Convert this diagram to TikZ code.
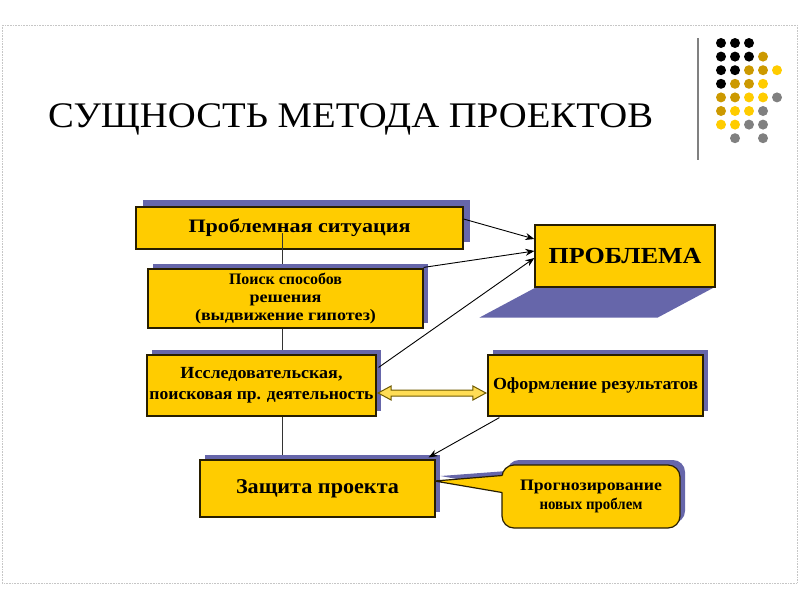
\documentclass[tikz,border=0pt]{standalone}
\usepackage{fontspec}
\setmainfont{Liberation Serif}
\usepackage{graphicx}
\usetikzlibrary{calc,arrows.meta,shadows}
\definecolor{boxy}{RGB}{255,204,0}
\definecolor{shad}{RGB}{102,102,170}
\definecolor{dgold}{RGB}{204,153,0}
\definecolor{dgray}{RGB}{128,128,128}
\definecolor{edge}{RGB}{40,30,0}
\definecolor{arrfill}{RGB}{255,221,85}
\definecolor{arredge}{RGB}{110,90,0}
\newcommand\hfit[2]{\resizebox{#1}{\height}{#2}}
\begin{document}
\begin{tikzpicture}[x=1pt,y=-1pt,
  box/.style={draw=edge, line width=1.2pt, fill=boxy, inner sep=0pt, align=center, text=black},
  shd/.style={drop shadow={shadow xshift=#1pt, shadow yshift=#1pt, opacity=1, fill=shad}},
  conn/.style={line width=0.9pt, draw=black, -{Stealth[length=9pt,width=7pt]}},
]
\useasboundingbox (0,0) rectangle (800,600);
% slide frame
\draw[densely dotted, gray!45, line width=0.6pt] (2,25) rectangle (797,583);

% title
\node[anchor=base west, inner sep=0pt] (title) at (48,127)
  {\fontsize{36}{40}\selectfont\hfit{605pt}{СУЩНОСТЬ МЕТОДА ПРОЕКТОВ}};

% decoration: vertical line and dots
\draw[dgray, line width=2pt] (698,38) -- (698,160);
\foreach \r/\c/\col in {
  0/0/black,0/1/black,0/2/black,
  1/0/black,1/1/black,1/2/black,1/3/dgold,
  2/0/black,2/1/black,2/2/dgold,2/3/dgold,2/4/boxy,
  3/0/black,3/1/dgold,3/2/dgold,3/3/boxy,
  4/0/dgold,4/1/dgold,4/2/boxy,4/3/boxy,4/4/dgray,
  5/0/dgold,5/1/boxy,5/2/boxy,5/3/dgray,
  6/0/boxy,6/1/boxy,6/2/dgray,6/3/dgray,
  7/1/dgray,7/3/dgray}
  \fill[\col] (721+14*\c, 43+13.6*\r) circle (5pt);

% box 1
\node[box, shd=7, minimum width=327pt, minimum height=42pt] (b1) at (299.5,228)
  {\fontsize{19}{21}\selectfont\bfseries\hfit{222pt}{Проблемная ситуация}};

% vertical connector
\coordinate (vtop) at ($(b1.center)+(-17.5,5)$);
\coordinate (vbot) at (vtop |- 0,460);
\draw[line width=1pt, black!80] (vtop) -- (vbot);

% box 2
\node[box, shd=5, minimum width=275pt, minimum height=59pt,
      font=\fontsize{16}{18}\selectfont\bfseries] (b2) at (285.5,298.5)
  {\hfit{113pt}{Поиск способов}\\ \hfit{72pt}{решения}\\ \hfit{181pt}{(выдвижение гипотез)}};

% box 3
\node[box, shd=5, minimum width=229pt, minimum height=61pt,
      font=\fontsize{17}{21}\selectfont\bfseries] (b3) at (261.5,385.5)
  {\hfit{162pt}{Исследовательская,}\\ \hfit{224pt}{поисковая пр. деятельность}};

% box 4
\node[box, shd=5, minimum width=215pt, minimum height=61pt,
      font=\fontsize{17}{20}\selectfont\bfseries] (b4) at (595.5,385.5)
  {\hfit{205pt}{Оформление результатов}};

% box 5
\node[box, shd=5, minimum width=235pt, minimum height=57pt,
      font=\fontsize{21}{23}\selectfont\bfseries] (b5) at (317.5,488.5)
  {\hfit{163pt}{Защита проекта}};

% problem box with its slanted shadow
\node[box, minimum width=180pt, minimum height=62pt,
      font=\fontsize{23}{25}\selectfont\bfseries] (prob) at (625,256)
  {\hfit{153pt}{ПРОБЛЕМА}};
\fill[shad] ($(prob.south west)+(0,0.6)$) -- ($(prob.south east)+(-3,0.6)$)
  -- ($(prob.south east)+(-58,30)$) -- ($(prob.south west)+(-55,30)$) -- cycle;

% callout
\coordinate (tip) at ($(b5.east)+(-1,-7.5)$);
\fill[shad] ($(tip)+(6,-5)$) -- (507,471) -- (507,488) -- cycle;
\node[box, shd=5, rounded corners=12pt, minimum width=178pt, minimum height=63pt,
      font=\fontsize{16}{19}\selectfont\bfseries] (cb) at (591,496.5)
  {\hfit{142pt}{Прогнозирование}\\ \hfit{103pt}{новых проблем}};
\fill[boxy] (tip) -- ($(cb.west)+(2.5,-21)$) -- ($(cb.west)+(2.5,-4)$) -- cycle;
\draw[edge, line width=1.2pt, line join=round]
  ($(cb.west)+(0.6,-21)$) -- (tip) -- ($(cb.west)+(0.6,-4)$);

% arrows to ПРОБЛЕМА
\draw[conn] ($(b1.east)+(0,-9)$) -- ($(prob.west)+(0,-17)$);
\draw[conn] ($(b2.north east)+(0,-1)$) -- ($(prob.west)+(0,-5)$);
\draw[conn] ($(b3.north east)+(2,13)$) -- ($(prob.west)+(0,2)$);

% arrow from box 4 to box 5
\draw[conn] ($(b4.south west)+(12,1)$) -- ($(b5.north east)+(-7,-2)$);

% double block arrow between box 3 and box 4
\coordinate (dl) at ($(b3.east)+(1.5,7.5)$);
\coordinate (dr) at ($(b4.west)+(-1.5,7.5)$);
\draw[fill=arrfill, draw=arredge, line width=1pt, line join=miter]
  (dl) -- ++(13,-7) -- ++(0,4) -- ($(dr)+(-13,-3)$) -- ++(0,-4) -- (dr)
  -- ++(-13,7) -- ++(0,-4) -- ($(dl)+(13,3)$) -- ++(0,4) -- cycle;
\end{tikzpicture}
\end{document}
